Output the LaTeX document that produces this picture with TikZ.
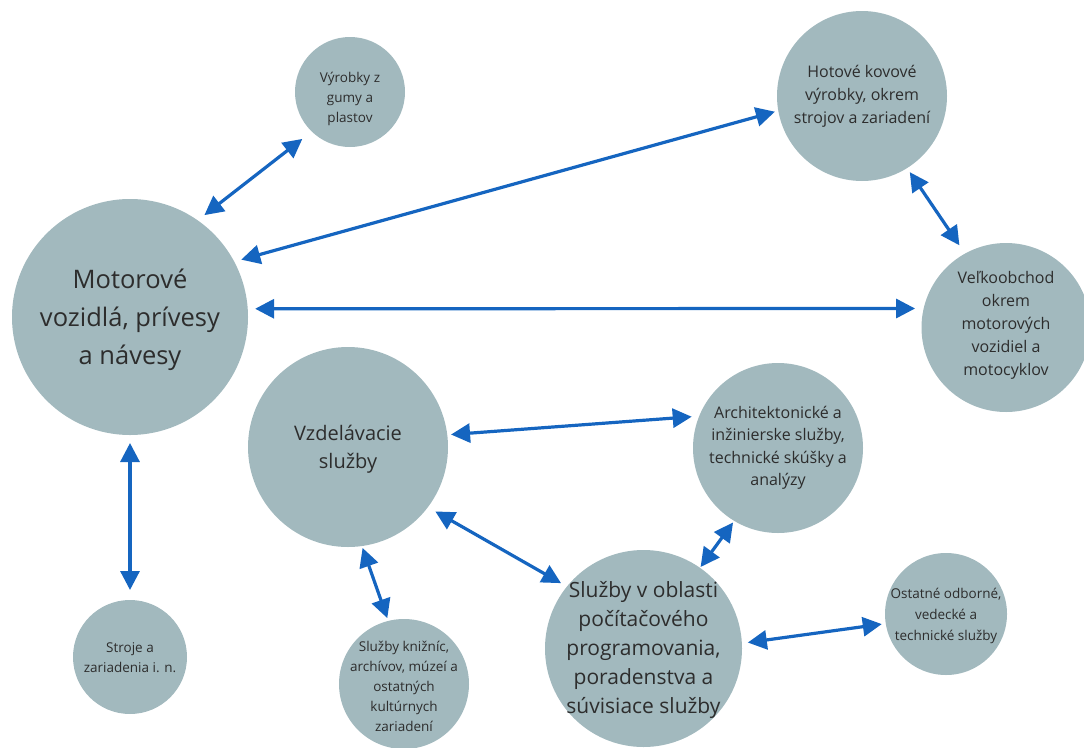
\documentclass[tikz,border=0pt]{standalone}
\usepackage{fontspec}
\setmainfont{Open Sans}
\usetikzlibrary{arrows.meta}
\definecolor{bubble}{RGB}{162,185,190}
\definecolor{arrowblue}{RGB}{21,101,192}
\definecolor{txt}{RGB}{45,45,45}
\begin{document}
\begin{tikzpicture}[x=1pt,y=-1pt,
  bub/.style={circle,fill=bubble,draw=none,inner sep=0pt,outer sep=0pt,minimum size=#1},
  lbl/.style={text=txt,align=center,inner sep=0pt},
  link/.style={draw=arrowblue,line width=3.2pt,{Triangle[length=19pt,width=19pt]}-{Triangle[length=19pt,width=19pt]}}]
\useasboundingbox (0,0) rectangle (1084,747);
% circles
\node[bub=236pt] (mot) at (130,317) {};
\node[bub=110pt] (vyr) at (350,92) {};
\node[bub=170pt] (hot) at (862,96) {};
\node[bub=169pt] (vel) at (1006,327.5) {};
\node[bub=200pt] (vzd) at (348,447) {};
\node[bub=170pt] (arc) at (778,448) {};
\node[bub=197pt] (sop) at (643.5,648.5) {};
\node[bub=130pt] (kni) at (404,684) {};
\node[bub=114pt] (str) at (130,657) {};
\node[bub=122pt] (ost) at (946,614) {};
% texts
\node[lbl,font=\fontsize{25.5}{38}\selectfont] (motT) at (130,320) {Motorové\\vozidlá, prívesy\\a návesy};
\node[lbl,font=\fontsize{13.5}{20}\selectfont] (vyrT) at (350,99) {Výrobky z\\gumy a\\plastov};
\node[lbl,font=\fontsize{16}{23}\selectfont] (hotT) at (862,96) {Hotové kovové\\výrobky, okrem\\strojov a zariadení};
\node[lbl,font=\fontsize{16}{23}\selectfont] (velT) at (1006,325) {Veľkoobchod\\okrem\\motorových\\vozidiel a\\motocyklov};
\node[lbl,font=\fontsize{20}{28}\selectfont] (vzdT) at (348,449) {Vzdelávacie\\služby};
\node[lbl,font=\fontsize{16}{22.5}\selectfont] (arcT) at (778,448) {Architektonické a\\inžinierske služby,\\technické skúšky a\\analýzy};
\node[lbl,font=\fontsize{21}{29}\selectfont] (sopT) at (643.5,650) {Služby v oblasti\\počítačového\\programovania,\\poradenstva a\\súvisiace služby};
\node[lbl,font=\fontsize{13.5}{20}\selectfont] (kniT) at (404,686) {Služby knižníc,\\archívov, múzeí a\\ostatných\\kultúrnych\\zariadení};
\node[lbl,font=\fontsize{13.5}{20}\selectfont] (strT) at (130,658) {Stroje a\\zariadenia i. n.};
\node[lbl,font=\fontsize{13.5}{21}\selectfont] (ostT) at (946,616) {Ostatné odborné,\\vedecké a\\technické služby};
% connectors
\draw[link,shorten <=8.5pt,shorten >=12pt] (mot.55.3) -- (vyr.226.8);
\draw[link,shorten <=7.3pt,shorten >=3.5pt] (mot.28.6) -- (hot.190.4);
\draw[link,shorten <=4.9pt,shorten >=10pt] (hot.302.3) -- (vel.119.1);
\draw[link,shorten <=7.4pt,shorten >=8.6pt] (mot.4.6) -- (vel.167.9);
\draw[link,shorten <=8pt,shorten >=10pt] (mot.270) -- (str.90);
\draw[link,shorten <=3.8pt,shorten >=7.5pt] (vzd.7.2) -- (arc.158.4);
\draw[link,shorten <=8.6pt,shorten >=6.8pt] (vzd.323.2) -- (sop.141.6);
\draw[link,shorten <=2pt,shorten >=3pt] (vzd.278.7) -- (kni.104.4);
\draw[link,shorten <=2pt,shorten >=1pt] (arc.239.6) -- (sop.55.3);
\draw[link,shorten <=6pt,shorten >=4pt] (sop.3) -- (ost.189.75);
\end{tikzpicture}
\end{document}
